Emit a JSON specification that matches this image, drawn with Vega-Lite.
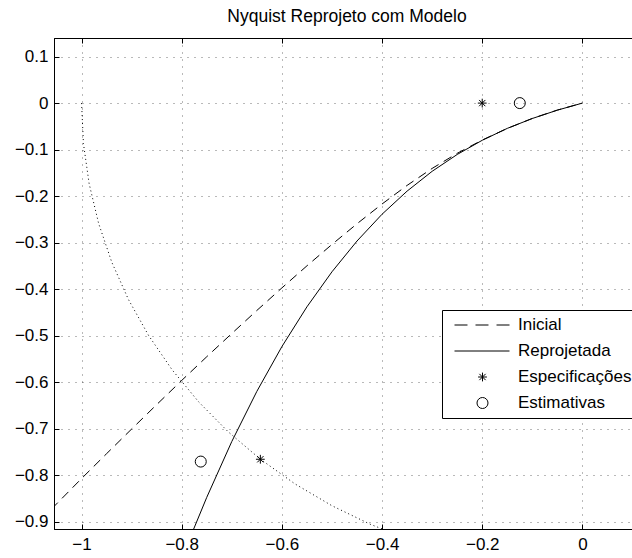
{
  "$schema": "https://vega.github.io/schema/vega-lite/v6.json",
  "width": 586,
  "height": 491,
  "autosize": {"type": "none"},
  "padding": {"left": 54, "top": 38, "right": 0, "bottom": 29},
  "background": "white",
  "title": {"text": "Nyquist Reprojeto com Modelo", "font": "Liberation Sans", "fontSize": 17.5, "fontWeight": "normal", "color": "black", "offset": 12},
  "config": {
    "view": {"stroke": "black", "strokeWidth": 1},
    "axis": {"labelFont": "Liberation Sans", "labelFontSize": 17, "labelColor": "black", "domainColor": "black", "tickColor": "black", "title": null}
  },
  "datasets": {
    "circulo": [
      {"x": -1.0, "y": 0.0}, {"x": -0.9962, "y": -0.0872}, {"x": -0.9848, "y": -0.1736}, {"x": -0.9659, "y": -0.2588},
      {"x": -0.9397, "y": -0.342}, {"x": -0.9063, "y": -0.4226}, {"x": -0.866, "y": -0.5}, {"x": -0.8192, "y": -0.5736},
      {"x": -0.766, "y": -0.6428}, {"x": -0.7071, "y": -0.7071}, {"x": -0.6428, "y": -0.766}, {"x": -0.5736, "y": -0.8192},
      {"x": -0.5, "y": -0.866}, {"x": -0.4226, "y": -0.9063}, {"x": -0.342, "y": -0.9397}
    ],
    "inicial": [
      {"x": 0, "y": 0}, {"x": -0.05, "y": -0.015}, {"x": -0.1, "y": -0.033}, {"x": -0.15, "y": -0.0545},
      {"x": -0.2, "y": -0.0795}, {"x": -0.25, "y": -0.108}, {"x": -0.3, "y": -0.1405}, {"x": -0.35, "y": -0.177},
      {"x": -0.4, "y": -0.217}, {"x": -0.45, "y": -0.2595}, {"x": -0.5, "y": -0.304}, {"x": -0.55, "y": -0.35},
      {"x": -0.6, "y": -0.3975}, {"x": -0.65, "y": -0.446}, {"x": -0.7, "y": -0.4955}, {"x": -0.75, "y": -0.5455},
      {"x": -0.8, "y": -0.5965}, {"x": -0.85, "y": -0.6485}, {"x": -0.9, "y": -0.701}, {"x": -0.95, "y": -0.754},
      {"x": -1.0, "y": -0.8075}, {"x": -1.06, "y": -0.873}
    ],
    "reprojetada": [
      {"x": 0, "y": 0}, {"x": -0.05, "y": -0.0152}, {"x": -0.1, "y": -0.0331}, {"x": -0.15, "y": -0.0544},
      {"x": -0.2, "y": -0.08}, {"x": -0.25, "y": -0.1105}, {"x": -0.3, "y": -0.1467}, {"x": -0.35, "y": -0.1893},
      {"x": -0.4, "y": -0.239}, {"x": -0.45, "y": -0.2966}, {"x": -0.5, "y": -0.3628}, {"x": -0.55, "y": -0.4382},
      {"x": -0.6, "y": -0.5237}, {"x": -0.65, "y": -0.62}, {"x": -0.7, "y": -0.7278}, {"x": -0.75, "y": -0.8479},
      {"x": -0.78, "y": -0.9261}
    ],
    "pontos": [
      {"x": -0.2, "y": 0, "serie": "Especificações"},
      {"x": -0.643, "y": -0.766, "serie": "Especificações"},
      {"x": -0.125, "y": 0, "serie": "Estimativas"},
      {"x": -0.762, "y": -0.771, "serie": "Estimativas"}
    ]
  },
  "encoding": {
    "y": {"field": "y", "type": "quantitative",
      "scale": {"domain": [-0.916, 0.14], "nice": false, "zero": false},
      "axis": {"values": [0.1, 0, -0.1, -0.2, -0.3, -0.4, -0.5, -0.6, -0.7, -0.8, -0.9], "format": ".1~f", "grid": true, "gridDash": [1, 6], "gridColor": "#000", "gridOpacity": 0.55, "tickSize": -5, "labelPadding": 11}}
  },
  "layer": [
    {
      "data": {"name": "circulo"},
      "mark": {"type": "line", "clip": true, "color": "black", "strokeWidth": 1, "strokeDash": [1, 3]},
      "encoding": {
        "x": {"field": "x", "type": "quantitative",
          "scale": {"domain": [-1.055, 0.115], "nice": false, "zero": false},
          "axis": {"orient": "bottom", "values": [-1, -0.8, -0.6, -0.4, -0.2, 0], "format": ".1~f", "grid": true, "gridDash": [1, 6], "gridColor": "#000", "gridOpacity": 0.55, "tickSize": -5, "labelPadding": 12}}
      }
    },
    {
      "data": {"name": "inicial"},
      "mark": {"type": "line", "clip": true, "color": "black", "strokeWidth": 1, "strokeDash": [9, 6]},
      "encoding": {
        "x": {"field": "x", "type": "quantitative",
          "axis": {"orient": "top", "values": [-1, -0.8, -0.6, -0.4, -0.2, 0], "labels": false, "grid": false, "tickSize": -5}}
      }
    },
    {
      "data": {"name": "reprojetada"},
      "mark": {"type": "line", "clip": true, "color": "black", "strokeWidth": 1},
      "encoding": {
        "x": {"field": "x", "type": "quantitative", "axis": null}
      }
    },
    {
      "data": {"name": "pontos"},
      "mark": {"type": "point", "filled": false, "color": "black", "strokeWidth": 1, "size": 121, "opacity": 1},
      "encoding": {
        "x": {"field": "x", "type": "quantitative", "axis": null},
        "shape": {"field": "serie", "type": "nominal",
          "scale": {"domain": ["Inicial", "Reprojetada", "Especificações", "Estimativas"],
            "range": ["M-5.09,0L-2.73,0M-1.27,0L1.09,0M2.55,0L4.91,0", "M-5.09,0L4.91,0", "M0,-0.8L0,0.8M-0.8,0L0.8,0M-0.57,-0.57L0.57,0.57M-0.57,0.57L0.57,-0.57", "circle"]},
          "legend": {"orient": "none", "legendX": 388, "legendY": 272, "title": null, "strokeColor": "black", "fillColor": "white", "padding": 6.5, "cornerRadius": 0,
            "symbolSize": 121, "symbolStrokeWidth": 1, "symbolStrokeColor": "black", "symbolFillColor": "transparent", "symbolOpacity": 1,
            "symbolOffset": 25.5, "labelOffset": 27, "labelFont": "Liberation Sans", "labelFontSize": 17, "labelColor": "black", "rowPadding": 8}}
      }
    }
  ],
  "resolve": {"axis": {"x": "independent"}}
}
